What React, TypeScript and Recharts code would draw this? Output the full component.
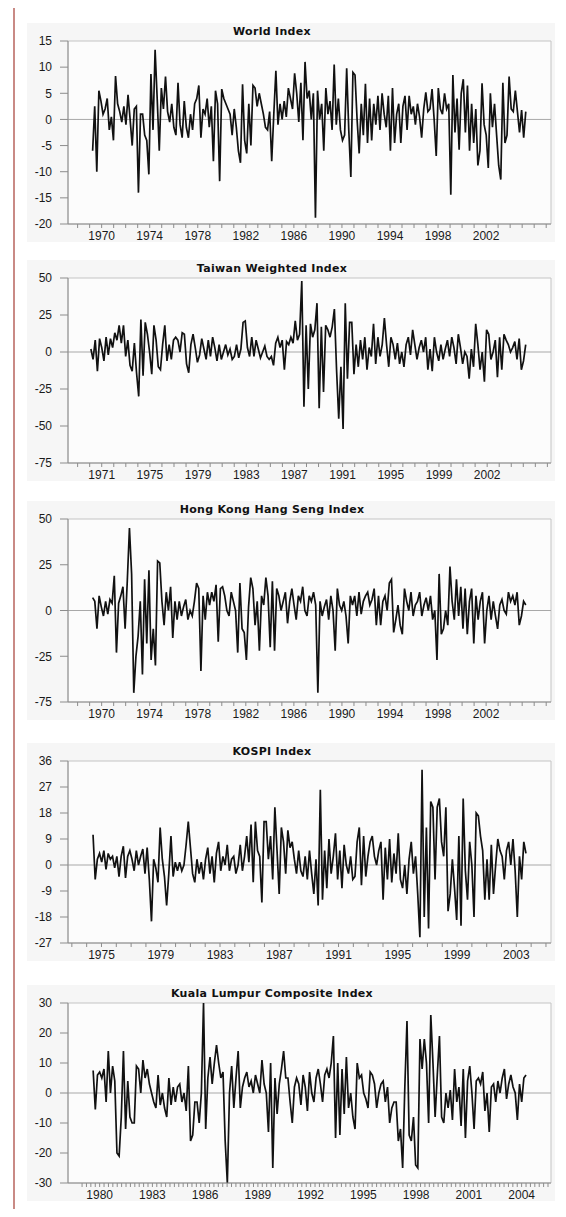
import React from 'react';
import { LineChart, Line, XAxis, YAxis, ReferenceLine, ReferenceArea } from 'recharts';

// monthly-ish returns (%), every ~2 months
const worldReturns = [
  -6, 2.5, -10, 5.5, 3.5, 1,
  2, 4, -2, 0.5, -4, 8.3,
  3, 1.5, -0.5, 2.5, -1, 4.7,
  0, -5, 2, 2.5, -14, 1,
  1, -3, -4, -10.5, 8.7, -2,
  13.3, 4, -6, 6, 2, 8.2,
  1.5, -0.5, 3, -1.5, -3, 7,
  -1, -3.5, 3.5, -1.5, -3.5, 1,
  -2, 3, 4, 6.5, -3.5, 2,
  1, 4, -1.5, 2.5, -8, 5.5,
  3, -11.8, 5.8, 4, 3, 2,
  1, -3, 2, -1.5, -6, -8.3,
  6.7, -4, -6.5, 3, -5, 6.5,
  6, 2.5, 5, 3, 1, -1.5,
  -2, 1.5, -8, 1, 9.3, -1,
  3, 0, 3.5, 0.5, 6, 4,
  2, 8.8, 5, -0.5, 7, -4,
  11, 4, 5.5, 0, 5, -18.8,
  5.5, 0, 3, -6, 6, 1,
  3.5, -2, 10.5, -1, 4, -2,
  -4, -3, 9.8, -2, -11, 9,
  8.5, 0, -6.5, 3, -3, 6.8,
  -4.5, 4, -4, 3, -1, 4.5,
  -2, 5, 1, -1.5, 4.5, -6,
  6, -4.5, 1, 3, -4.5, 2.5,
  4.5, -2, 4.5, 1, 2.5, -1,
  3, 0.5, -3.5, 2, 5.2, 1.5,
  2, 5.8, 0, -7, 6, 2,
  1, 5, 2, 3, -14.4, 8.5,
  -2.5, 4, -5.8, 5, 7.7, -2.5,
  6.5, -6, 3, -4.5, 2, -8.8,
  -6, 6.9, -1, -3, -9.3, 5,
  -1.5, 3, -3, -8.8, -11.5, 7,
  -4.5, -3, 8.2, 2, 1.5, 5.5,
  1.5, -2.5, 1.8, -3.5, 1.5,
];

const taiwanReturns = [
  2, -5, 8, -13, 9, 3, -6, 10, -2, 9,
  3, 13, 8, 18, 6, 18, -3, 8, -9, -13,
  6, -14, -30, 22, -16, 20, 12, 0, -15, 18,
  8, -10, -12, 5, 18, -6, 5, -5, 8, 10,
  8, 0, 13, 12, -8, -14, 5, 12, 3, -7,
  -2, 9, 2, -5, 8, -3, 10, 3, -6, 5,
  -5, 0, 5, -2, 2, -5, -3, 5, -4, 2,
  20, 21, 3, -3, 10, -3, 8, 2, -4, 0,
  4, -3, -5, -3, -9, 6, 10, 3, 8, -12,
  7, 5, 10, 6, 21, 8, 12, 48, -37, 18,
  -25, 19, 10, 15, 33, -38, 17, -27, 18, 15,
  10, 17, 29, -12, -45, -10, -52, 33, -18, 20,
  20, -15, 5, -10, 8, -5, 10, -12, 3, -3,
  19, -8, 10, -3, 5, 23, 5, -10, 10, 5,
  -5, 6, -8, 0, -10, 5, 10, -2, 15, 5,
  -5, 3, 8, 0, 10, -12, 2, -13, 10, 0,
  -6, 5, -5, 2, 8, -3, 10, 3, -8, 12,
  3, -8, 0, -3, -18, 2, -10, 19, 5, -12,
  0, -20, 15, 12, -5, 0, 8, -17, 10, -12,
  12, 8, 5, 0, 3, 7, -5, 9, -12, -6, 5,
];

const hangSengReturns = [
  7, 5, -10, 8, 2, -3, 5, -2, 6, 4,
  19, -23, 4, 8, 13, -10, 16, 45, 20, -45,
  -25, -14, 5, -35, 17, -18, 22, -27, -10, -30,
  27, 26, 5, -8, 10, 0, 13, -15, 5, -5,
  5, -3, 2, 6, -5, 0, -3, 5, 15, 12,
  -33, 8, -5, 10, 3, 10, 5, 14, -17, 12,
  13, 8, 0, -3, 10, 5, 0, -23, 15, -10,
  -12, -27, 2, 18, 12, -8, 5, -22, 8, 3,
  18, 8, -20, 16, -22, 12, 8, 0, 5, 10,
  -7, 5, 12, 3, -5, 8, 5, 13, 0, -3,
  8, 5, 10, 3, -45, 5, -3, 2, 6, -5,
  8, 0, -22, 12, 3, 0, 5, -3, -18, 8,
  3, 8, -3, 10, -2, 5, 8, 10, 3, 6,
  12, -8, 8, -8, 5, 8, 0, 15, 17, -12,
  -5, 3, -8, -13, 12, 5, 0, 10, -3, 3,
  5, 10, -3, 3, 7, 0, 8, -5, 0, -27,
  20, -13, -10, 0, -8, 24, 5, -5, 17, -3,
  13, -10, 12, -13, 5, 12, -18, 8, -5, 5,
  10, -18, 0, 8, -5, 5, -3, -10, 3, 6,
  0, -2, 10, 5, 8, 3, 10, -8, -3, 5, 3,
];

const kospiReturns = [
  10.5, -5, 2, 4, 1, 5, -1.5, 4, 2, 3,
  -1, 3, -4, 3, 6.5, -4.5, 3, 5, 2, -2,
  5, 0, 3, 5.5, -3, 6, -5, -19.5, 2, -1,
  -6, 13, 2, -4, -14, -3, 10, -4, 1, -2,
  1, -2, 0, 7, 15, 6, -3, -6, 2, -3,
  1, -5, 2, 6, -3, 3, -6, 4, 8, -2,
  3, 0, 7, -2, 2, 3, -3, 0, 7, -2,
  3, 10, 1, 14, -6, 15, 5, 3, -13, 15,
  15, 2, 10, -5, 20, 5, -10, 13, 8, -3,
  12, 6, 8, 2, -3, 5, -2, -4, 3, -5,
  5, -3, -10, 2, -14, 26, -12, 5, -8, 9,
  -3, 3, 11, -5, 5, -8, 7, 0, -3, 3,
  -5, -4, 8, 13, -7, 10, -4, 3, 8, 10,
  3, 0, 5, 8, -12, 6, -5, 9, -6, 4,
  -3, 11, -5, -8, 0, -10, 2, 8, -3, 3,
  -10, -25, 33, -18, 13, -22, 22, 20, -5, 20,
  23, 8, 3, 20, -16, -10, 2, -8, -19, 10,
  -21, 23, -2, -12, 8, 0, -18, 18, 17, 10,
  5, -12, 2, -12, 7, -10, 0, 9, 5, 3,
  -5, 5, 8, 0, 9, -2, -18, 3, -5, 8, 4,
];

const klciReturns = [
  7.5, -5.5, 6, 7, 5, 8, -3, 14, 0, 9,
  4, -20, -21, -8, 14, -12, 4, -8, -10, -10,
  9, 8, 0, 11, 5, 8, 3, 0, -3, -5,
  6, -4, 0, -5, -8, 5, -4, 2, -3, 2,
  3, -3, 0, -6, 9, -16, -14, -3, -3, -10,
  0, 30, -12, 5, 12, 3, 10, 16, 10, 5,
  7, -16, -30, 0, 9, -5, 5, 14, -5, 2,
  5, 7, 2, 4, 0, 6, 3, 0, 11, 3,
  0, -13, 10, -25, 5, -7, 3, 8, 14, 5,
  5, -3, -10, 2, 5, 3, -4, 6, 2, -6,
  7, 0, -3, 5, 8, 3, -3, 6, 8, 5,
  10, 19, -15, 10, -14, 8, -7, 12, -5, 0,
  -8, -12, 10, 5, 6, 0, -2, -5, 7, 6,
  3, -5, 0, 3, 4, -3, 2, -10, -5, -3,
  -3, -16, -12, -25, 2, 24, -14, -16, -8, -24,
  -25, 18, 8, 18, 10, -10, 26, 10, -8, 6,
  19, -8, -10, 0, -5, 1, -9, 8, -3, 2,
  -11, 8, -15, 4, 9, 0, -12, 4, 5, 3,
  7, -6, 0, -13, 2, 3, -3, 4, 0, 5,
  8, -2, 3, 6, 2, 0, -9, 3, -3, 5, 6,
];

// x-axis labels
const worldTickPos = [1970, 1974, 1978, 1982, 1986, 1990, 1994, 1998, 2002];
const worldTickLabels = ['1970', '1974', '1978', '1982', '1986', '1990', '1994', '1998', '2002'];
const taiwanTickPos = [1971, 1975, 1979, 1983, 1987, 1991, 1995, 1999, 2003];
const taiwanTickLabels = ['1971', '1975', '1979', '1983', '1987', '1991', '1995', '1999', '2002'];
const hkTickPos = [1970, 1974, 1978, 1982, 1986, 1990, 1994, 1998, 2002];
const hkTickLabels = ['1970', '1974', '1978', '1982', '1986', '1990', '1994', '1998', '2002'];
const kospiTickPos = [1975, 1979, 1983, 1987, 1991, 1995, 1999, 2003];
const kospiTickLabels = ['1975', '1979', '1983', '1987', '1991', '1995', '1999', '2003'];
const klTickPos = [1980, 1983, 1986, 1989, 1992, 1995, 1998, 2001, 2004];
const klTickLabels = ['1980', '1983', '1986', '1989', '1992', '1995', '1998', '2001', '2004'];

// y-axis
const worldY = [-20, -15, -10, -5, 0, 5, 10, 15];
const worldYLabels = ['-20', '-15', '-10', '-5', '0', '5', '10', '15'];
const taiwanY = [-75, -50, -25, 0, 25, 50];
const taiwanYLabels = ['-75', '-50', '-25', '0', '25', '50'];
const hkY = [-50, -25, 0, 25, 50];
const hkYLabels = ['-75', '-25', '0', '25', '50'];
const kospiY = [-27, -18, -9, 0, 9, 18, 27, 36];
const kospiYLabels = ['-27', '-18', '-9', '0', '9', '18', '27', '36'];
const klY = [-30, -20, -10, 0, 10, 20, 30];
const klYLabels = ['-30', '-20', '-10', '0', '10', '20', '30'];

const FONT = '"Liberation Sans", Arial, sans-serif';
const AXIS = '#8c8c8c';

type PanelProps = {
  title: string;
  top: number;
  plotH: number;
  values: number[];
  span: [number, number];
  xDomain: [number, number];
  tickPos: number[];
  tickLabels: string[];
  minorStep: number;
  yTicks: number[];
  yLabels: string[];
};

function Panel(p: PanelProps) {
  const n = p.values.length;
  const data = p.values.map((v, i) => ({
    x: p.span[0] + ((p.span[1] - p.span[0]) * i) / (n - 1),
    v,
  }));
  const minor: number[] = [];
  for (let t = Math.ceil(p.xDomain[0]); t <= p.xDomain[1] + 1e-9; t += p.minorStep) minor.push(+t.toFixed(4));
  p.tickPos.forEach((t) => {
    if (!minor.some((m) => Math.abs(m - t) < 1e-6)) minor.push(t);
  });
  minor.sort((a, b) => a - b);

  const yDomain: [number, number] = [p.yTicks[0], p.yTicks[p.yTicks.length - 1]];

  const XTick = (props: any) => {
    const { x, y, payload } = props;
    const i = p.tickPos.findIndex((t) => Math.abs(t - payload.value) < 1e-6);
    if (i < 0) return <g />;
    return (
      <text x={x} y={y} dy="0.71em" textAnchor="middle" fontSize={12} fill="#1a1a1a" fontFamily={FONT}>
        {p.tickLabels[i]}
      </text>
    );
  };

  return (
    <div style={{ position: 'absolute', left: 27, top: p.top - 18, width: 528, height: p.plotH + 36, background: '#f6f6f6' }}>
      <div
        style={{
          position: 'absolute',
          left: 245 - 150,
          width: 300,
          top: 1,
          textAlign: 'center',
          fontFamily: '"DejaVu Sans", sans-serif',
          fontWeight: 700,
          fontSize: 11,
          letterSpacing: 0.3,
          color: '#111',
          lineHeight: '15px',
        }}
      >
        {p.title}
      </div>
      <LineChart width={528} height={p.plotH + 36} data={data} margin={{ top: 18, right: 4, bottom: 0, left: 0 }}>
        <XAxis
          type="number"
          dataKey="x"
          domain={p.xDomain}
          allowDataOverflow
          ticks={minor}
          interval={0}
          height={18}
          tickSize={4}
          tickMargin={3}
          tick={XTick}
          axisLine={{ stroke: AXIS }}
          tickLine={{ stroke: AXIS }}
        />
        <YAxis
          type="number"
          domain={yDomain}
          allowDataOverflow
          ticks={p.yTicks}
          interval={0}
          width={41}
          tickSize={8}
          tickMargin={8}
          tickFormatter={(v: number) => p.yLabels[p.yTicks.indexOf(v)] ?? String(v)}
          tick={{ fontSize: 12, fill: '#1a1a1a', fontFamily: FONT }}
          axisLine={{ stroke: AXIS }}
          tickLine={{ stroke: AXIS }}
        />
        <ReferenceArea
          x1={p.xDomain[0]}
          x2={p.xDomain[1]}
          y1={yDomain[0]}
          y2={yDomain[1]}
          fill="#fcfcfc"
          fillOpacity={1}
          stroke="#c4c4c4"
          ifOverflow="visible"
        />
        <ReferenceLine y={0} stroke="#a8a8a8" strokeWidth={1} />
        <Line type="linear" dataKey="v" stroke="#111" strokeWidth={1.7} dot={false} isAnimationActive={false} />
      </LineChart>
    </div>
  );
}

export default function App() {
  return (
    <div style={{ position: 'relative', margin: -8, width: 566, height: 1217, overflow: 'hidden', background: '#fff' }}>
      <div
        style={{
          position: 'absolute',
          left: 13,
          top: 6,
          width: 600,
          height: 1300,
          borderLeft: '2px solid #c98a85',
          borderTop: '2px solid #c98a85',
        }}
      />
      <Panel
        title="World Index"
        top={41}
        plotH={183}
        values={worldReturns}
        span={[1969.25, 2005.3]}
        xDomain={[1967.2, 2007.4]}
        tickPos={worldTickPos}
        tickLabels={worldTickLabels}
        minorStep={1}
        yTicks={worldY}
        yLabels={worldYLabels}
      />
      <Panel
        title="Taiwan Weighted Index"
        top={278}
        plotH={185}
        values={taiwanReturns}
        span={[1970.1, 2006.2]}
        xDomain={[1968.2, 2008.3]}
        tickPos={taiwanTickPos}
        tickLabels={taiwanTickLabels}
        minorStep={1}
        yTicks={taiwanY}
        yLabels={taiwanYLabels}
      />
      <Panel
        title="Hong Kong Hang Seng Index"
        top={519}
        plotH={183}
        values={hangSengReturns}
        span={[1969.25, 2005.3]}
        xDomain={[1967.2, 2007.4]}
        tickPos={hkTickPos}
        tickLabels={hkTickLabels}
        minorStep={1}
        yTicks={hkY}
        yLabels={hkYLabels}
      />
      <Panel
        title="KOSPI Index"
        top={761}
        plotH={182}
        values={kospiReturns}
        span={[1974.43, 2003.65]}
        xDomain={[1972.74, 2005.34]}
        tickPos={kospiTickPos}
        tickLabels={kospiTickLabels}
        minorStep={1}
        yTicks={kospiY}
        yLabels={kospiYLabels}
      />
      <Panel
        title="Kuala Lumpur Composite Index"
        top={1003}
        plotH={180}
        values={klciReturns}
        span={[1979.63, 2004.25]}
        xDomain={[1978.2, 2005.67]}
        tickPos={klTickPos}
        tickLabels={klTickLabels}
        minorStep={0.25}
        yTicks={klY}
        yLabels={klYLabels}
      />
    </div>
  );
}
